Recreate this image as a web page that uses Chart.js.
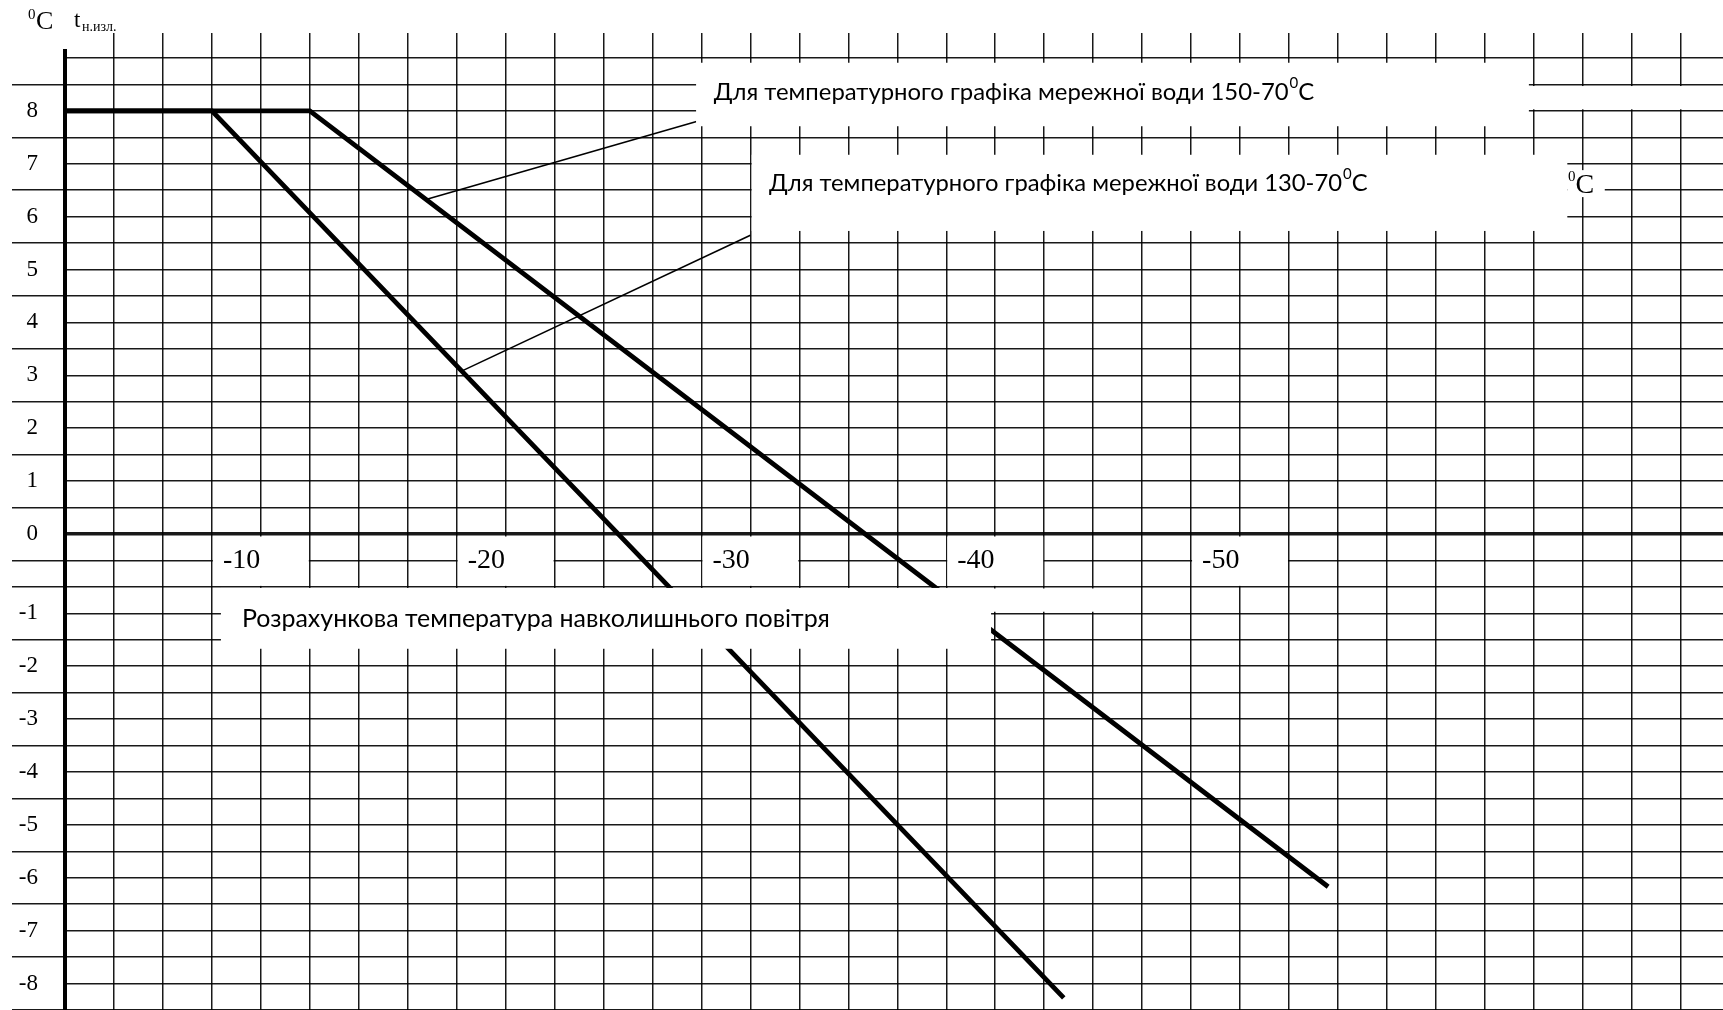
<!DOCTYPE html>
<html>
<head>
<meta charset="utf-8">
<title>t н.изл.</title>
<script src="https://cdn.jsdelivr.net/npm/chart.js@4.4.1/dist/chart.umd.min.js"></script>
<style>
    html, body { margin: 0; padding: 0; background: #fff; overflow: hidden; }
    #wrap { width: 1723px; height: 1010px; }
</style>
</head>
<body>
<div id="wrap"><canvas id="chart" width="1723" height="1010"></canvas></div>
<script>
// --- DATA ---
// x: design outdoor temperature, y: break-point temperature t н.изл.
const x150 = [0, -10, -51.6];
const y150 = [8, 8, -6.67];
const x130 = [0, -6, -40.8];
const y130 = [8, 8, -8.77];

// thin leader lines from the curves to their captions
const lead150X = [-14.78, -25.8];
const lead150Y = [6.33, 7.8];
const lead130X = [-16.2, -28.0];
const lead130Y = [3.08, 5.65];

const xTickValues = [-10, -20, -30, -40, -50];
const yTickValues = [8, 7, 6, 5, 4, 3, 2, 1, 0, -1, -2, -3, -4, -5, -6, -7, -8];

const caption150 = 'Для температурного графіка мережної води 150-70';
const caption130 = 'Для температурного графіка мережної води 130-70';
const xTitle = 'Розрахункова температура навколишнього повітря';

const SERIF = '"Liberation Serif", "Times New Roman", serif';
const SANS = 'Lato, "Open Sans", sans-serif';
const INK = 'rgba(0,0,0,0.9)';

// in the scan the negative labels sit one grid row (half a unit) lower
function labelFor(v) {
    if (v >= 0) return yTickValues.includes(v) ? String(v) : '';
    const shifted = v + 0.5;
    return (shifted <= -1 && yTickValues.includes(shifted)) ? String(shifted) : '';
}

const toPoints = (xs, ys) => xs.map((x, i) => ({ x: x, y: ys[i] }));

function curve(xs, ys, width) {
    return {
        data: toPoints(xs, ys),
        showLine: true,
        borderColor: '#000',
        borderWidth: width,
        borderJoinStyle: 'miter',
        pointRadius: 0,
        fill: false
    };
}

// text with a raised small "0" and "C" after it
function degreeText(ctx, text, x, y, size, family) {
    ctx.font = `${size}px ${family}`;
    ctx.fillText(text, x, y);
    const w = ctx.measureText(text).width;
    ctx.font = `${Math.round(size * 0.62)}px ${family}`;
    ctx.fillText('0', x + w + 1, y - size * 0.38);
    const w0 = ctx.measureText('0').width;
    ctx.font = `${size}px ${family}`;
    ctx.fillText('C', x + w + w0 + 1, y);
}

function fitSize(ctx, text, family, width) {
    ctx.font = `100px ${family}`;
    return 100 * width / ctx.measureText(text).width;
}

const paperPlugin = {
    id: 'paper',
    afterDraw(chart) {
        const ctx = chart.ctx;
        const px = v => chart.scales.x.getPixelForValue(v);
        const py = v => chart.scales.y.getPixelForValue(v);
        const blank = (x1, x2, y1, y2) => {
            const l = Math.min(px(x1), px(x2)), r = Math.max(px(x1), px(x2));
            const t = Math.min(py(y1), py(y2)), b = Math.max(py(y1), py(y2));
            ctx.fillRect(l, t, r - l, b - t);
        };

        ctx.save();

        // y axis sticks out a little above the top grid line
        ctx.fillStyle = '#000';
        ctx.fillRect(px(0) - 2, py(9) - 9, 4, 10);

        // white patches of the pasted captions
        ctx.fillStyle = '#fff';
        blank(-25.78, -59.8, 8.91, 7.71);
        blank(-59.8, -67.8, 8.47, 8.03);
        blank(-28.05, -61.37, 7.17, 5.73);
        blank(-61.37, -62.9, 6.88, 6.37);
        blank(-6.37, -37.83, -1.02, -2.17);
        blank(-37.83, -43.8, -1.03, -1.47);
        xTickValues.forEach(v => {
            ctx.fillRect(px(v + 4) + 1, py(0) + 2.5, px(v) - px(v + 4) - 2, py(-1) - py(0) - 3.5);
        });

        ctx.fillStyle = '#000';
        ctx.textBaseline = 'middle';
        ctx.textAlign = 'left';

        // x tick labels
        ctx.font = `28px ${SERIF}`;
        xTickValues.forEach(v => ctx.fillText(String(v), px(v + 4) + 11, py(-0.5)));

        // captions
        const s1 = fitSize(ctx, caption150 + '0C', SANS, 605);
        degreeText(ctx, caption150, px(-26.5), py(8.35), s1, SANS);
        const s2 = fitSize(ctx, caption130 + '0C', SANS, 603);
        degreeText(ctx, caption130, px(-28.76), py(6.63), s2, SANS);
        const s3 = fitSize(ctx, xTitle, SANS, 588);
        ctx.font = `${s3}px ${SANS}`;
        ctx.fillText(xTitle, px(-7.23), py(-1.6));

        // x unit on the right
        ctx.font = `15px ${SERIF}`;
        ctx.fillText('0', px(-61.4), py(6.74));
        ctx.font = `28px ${SERIF}`;
        ctx.fillText('C', px(-61.7), py(6.58));

        // y unit and symbol, top left
        ctx.textBaseline = 'alphabetic';
        ctx.font = `15px ${SERIF}`;
        ctx.fillText('0', 28, 19);
        ctx.font = `26px ${SERIF}`;
        ctx.fillText('C', 36, 29);
        ctx.font = `23px ${SERIF}`;
        ctx.fillText('t', 74, 27);
        ctx.font = `14px ${SERIF}`;
        ctx.fillText('н.изл.', 82, 31);

        ctx.restore();
    }
};

new Chart(document.getElementById('chart'), {
    type: 'scatter',
    data: {
        datasets: [
            curve(x150, y150, 4.8),
            curve(x130, y130, 4.8),
            curve(lead150X, lead150Y, 1.6),
            curve(lead130X, lead130Y, 1.6)
        ]
    },
    options: {
        responsive: false,
        animation: false,
        events: [],
        layout: { padding: { left: 12, top: 33, right: 0, bottom: 0 } },
        plugins: { legend: { display: false }, tooltip: { enabled: false } },
        scales: {
            x: {
                type: 'linear',
                position: 'top',
                min: -67.73, max: 0,
                reverse: true,
                ticks: { stepSize: 2, display: false, includeBounds: false },
                grid: {
                    color: ctx => ctx.tick.value === 0 ? 'transparent' : INK,
                    tickColor: ctx => ctx.tick.value === 0 ? 'transparent' : INK,
                    lineWidth: 1.5,
                    drawTicks: true,
                    tickLength: 25
                },
                border: { display: false },
                afterFit: s => { s.height = 25; }
            },
            y: {
                type: 'linear',
                min: -9, max: 9,
                ticks: {
                    stepSize: 0.5,
                    autoSkip: false,
                    includeBounds: false,
                    padding: -26,
                    color: '#000',
                    font: { family: SERIF, size: 23 },
                    callback: v => labelFor(v)
                },
                grid: {
                    color: INK,
                    lineWidth: ctx => ctx.tick.value === 0 ? 3.5 : 1.5,
                    tickColor: ctx => (labelFor(ctx.tick.value) !== '' || ctx.tick.value >= 9) ? 'transparent' : INK,
                    tickWidth: 1.5,
                    drawTicks: true,
                    tickLength: 53
                },
                border: { display: true, color: '#000', width: 4 },
                afterFit: s => { s.width = 53; }
            }
        }
    },
    plugins: [paperPlugin]
});
</script>
</body>
</html>
